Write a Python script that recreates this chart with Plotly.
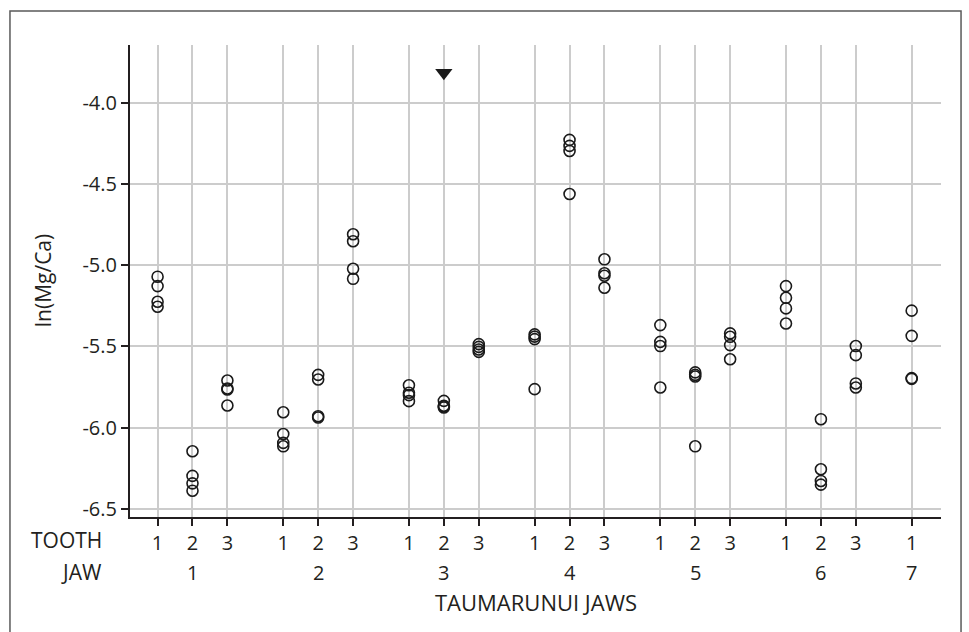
import plotly.graph_objects as go

# ---- data ----
jaws = [1, 2, 3, 4, 5, 6, 7]
teeth_per_jaw = [3, 3, 3, 3, 3, 3, 1]
tooth_labels = ["1", "2", "3"]

# ln(Mg/Ca) values per jaw/tooth
values = {
    (1, 1): [-5.071, -5.129, -5.225, -5.256],
    (1, 2): [-6.145, -6.297, -6.343, -6.388],
    (1, 3): [-5.710, -5.759, -5.765, -5.864],
    (2, 1): [-5.905, -6.039, -6.094, -6.115],
    (2, 2): [-5.675, -5.704, -5.930, -5.938],
    (2, 3): [-4.810, -4.853, -5.022, -5.084],
    (3, 1): [-5.739, -5.785, -5.800, -5.837],
    (3, 2): [-5.835, -5.865, -5.870, -5.876],
    (3, 3): [-5.486, -5.503, -5.519, -5.534],
    (4, 1): [-5.426, -5.440, -5.455, -5.763],
    (4, 2): [-4.229, -4.266, -4.297, -4.562],
    (4, 3): [-4.964, -5.050, -5.065, -5.139],
    (5, 1): [-5.369, -5.472, -5.498, -5.753],
    (5, 2): [-5.660, -5.675, -5.685, -6.115],
    (5, 3): [-5.420, -5.441, -5.492, -5.579],
    (6, 1): [-5.129, -5.201, -5.266, -5.359],
    (6, 2): [-5.948, -6.256, -6.328, -6.351],
    (6, 3): [-5.498, -5.554, -5.728, -5.753],
    (7, 1): [-5.280, -5.435, -5.695, -5.700],
}
# off-scale marker (value above range)
flag_jaw, flag_tooth, flag_value = 3, 2, -3.816

y_ticks = [-4.0, -4.5, -5.0, -5.5, -6.0, -6.5]

# ---- layout helpers ----
JAW_STEP = 3.6  # group spacing on the category axis


def pos(jaw, tooth):
    return (jaw - 1) * JAW_STEP + (tooth - 1)


xs, ys = [], []
for (j, t), vals in values.items():
    for v in vals:
        xs.append(pos(j, t))
        ys.append(v)

tickvals, ticktext = [], []
for j, n in zip(jaws, teeth_per_jaw):
    for t in range(1, n + 1):
        tickvals.append(pos(j, t))
        ticktext.append(tooth_labels[t - 1])

FONT = "Open Sans"
TXT = "#231f20"

fig = go.Figure()
fig.add_trace(go.Scatter(
    x=xs, y=ys, mode="markers",
    marker=dict(symbol="circle-open", size=11, color="#1a1a1a",
                line=dict(width=1.6, color="#1a1a1a")),
    showlegend=False, hoverinfo="y"))
fig.add_trace(go.Scatter(
    x=[pos(flag_jaw, flag_tooth)], y=[flag_value], mode="markers",
    marker=dict(symbol="triangle-down", size=15, color="#1a1a1a"),
    showlegend=False, hoverinfo="skip"))

annotations = []
# jaw labels under the middle tooth
for j, n in zip(jaws, teeth_per_jaw):
    mid = pos(j, 2) if n == 3 else pos(j, 1)
    annotations.append(dict(x=mid, xref="x", y=-0.117, yref="paper",
                            text=str(j), showarrow=False,
                            font=dict(size=20, family=FONT, color=TXT),
                            xanchor="center", yanchor="middle"))
annotations += [
    dict(x=-0.032, xref="paper", y=-0.049, yref="paper", text="TOOTH",
         showarrow=False, xanchor="right", yanchor="middle",
         font=dict(size=21, family=FONT, color=TXT)),
    dict(x=-0.032, xref="paper", y=-0.117, yref="paper", text="JAW",
         showarrow=False, xanchor="right", yanchor="middle",
         font=dict(size=21, family=FONT, color=TXT)),
    dict(x=0.5, xref="paper", y=-0.181, yref="paper", text="TAUMARUNUI JAWS",
         showarrow=False, xanchor="center", yanchor="middle",
         font=dict(size=22, family=FONT, color=TXT)),
    dict(x=-0.107, xref="paper", y=0.5, yref="paper", text="ln(Mg/Ca)",
         showarrow=False, xanchor="center", yanchor="middle", textangle=-90,
         font=dict(size=21, family=FONT, color=TXT)),
]

fig.update_layout(
    width=969, height=632,
    margin=dict(l=130, r=28, t=45, b=115),
    paper_bgcolor="white", plot_bgcolor="white",
    font=dict(family=FONT, color=TXT, size=20),
    annotations=annotations,
    shapes=[dict(type="rect", xref="paper", yref="paper",
                 x0=-0.148, x1=1.0247, y0=-0.3, y1=1.072,
                 line=dict(color="#5a5a5a", width=1.5), layer="below")],
    xaxis=dict(range=[-0.79, 22.44], tickmode="array", tickvals=tickvals,
               ticktext=ticktext, showgrid=True, gridcolor="#cccccc",
               gridwidth=1.5, showline=True, linecolor="#231f20", linewidth=2,
               ticks="outside", ticklen=7, tickwidth=1.5, tickcolor="#231f20",
               zeroline=False, tickfont=dict(size=20)),
    yaxis=dict(range=[-6.55, -3.645], tickmode="array", tickvals=y_ticks,
               ticktext=[f"{v:.1f}" for v in y_ticks], showgrid=True,
               gridcolor="#cccccc", gridwidth=1.5, showline=True,
               linecolor="#231f20", linewidth=2, ticks="outside", ticklen=7,
               tickwidth=1.5, tickcolor="#231f20", zeroline=False,
               tickfont=dict(size=20)),
)

fig.write_html("out.html",
               config={"displayModeBar": False},
               post_script="document.body.style.margin='0';"
                           "document.body.style.padding='0';")
